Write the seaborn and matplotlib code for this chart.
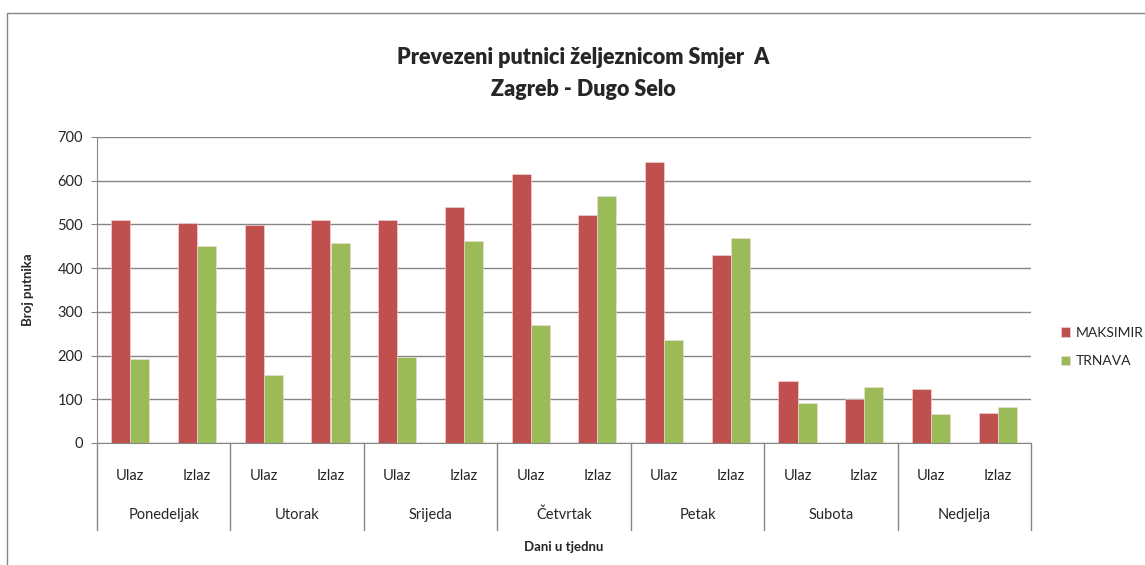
import pandas as pd
import matplotlib.pyplot as plt
import seaborn as sns
from matplotlib.lines import Line2D
from matplotlib.patches import Rectangle

# podaci
dani = ['Ponedeljak', 'Utorak', 'Srijeda', 'Četvrtak', 'Petak', 'Subota', 'Nedjelja']
smjerovi = ['Ulaz', 'Izlaz']
maksimir = [511, 503, 498, 509, 511, 539, 616, 522, 642, 429, 142, 100, 124, 68]
trnava = [192, 451, 156, 457, 196, 462, 271, 566, 235, 470, 91, 129, 66, 83]

kategorije = [d + ' ' + s for d in dani for s in smjerovi]
df = pd.DataFrame({
    'kategorija': kategorije * 2,
    'stanica': ['MAKSIMIR'] * len(kategorije) + ['TRNAVA'] * len(kategorije),
    'putnici': maksimir + trnava,
})

sns.set_style('white')
plt.rcParams['font.family'] = ['Lato', 'DejaVu Sans']

fig = plt.figure(figsize=(11.45, 5.65), dpi=100)
ax = fig.add_axes([97 / 1145, 1 - 443 / 565, (1031 - 97) / 1145, (443 - 137) / 565])

sns.barplot(data=df, x='kategorija', y='putnici', hue='stanica', order=kategorije,
            palette=['#C0504D', '#9BBB59'], saturation=1, width=0.57, edgecolor='#f2dcdb',
            linewidth=0.4, ax=ax, zorder=3)

ax.set_ylim(0, 700)
ax.set_xlim(-0.5, len(kategorije) - 0.5)
ax.set_yticks(range(0, 701, 100))
ax.yaxis.grid(True, color='#868686', linewidth=1)
ax.set_axisbelow(True)
for s in ['top', 'right']:
    ax.spines[s].set_visible(False)
for s in ['left', 'bottom']:
    ax.spines[s].set_color('#868686')
ax.tick_params(axis='y', labelsize=10.5, length=4, color='#868686', left=True, pad=6)
ax.set_xticks(range(len(kategorije)))
ax.set_xticklabels([s for d in dani for s in smjerovi], fontsize=10.5)
ax.tick_params(axis='x', length=0, pad=19)
ax.set_xlabel('')
ax.set_ylabel('Broj putnika', fontsize=9.5, fontweight='bold', labelpad=17)

# nazivi dana i razdjelnici
trans = ax.get_xaxis_transform()
for i, d in enumerate(dani):
    ax.text(2 * i + 0.5, -72 / 306, d, transform=trans, ha='center', va='center', fontsize=10.5)
for i in range(len(dani) + 1):
    ax.add_line(Line2D([2 * i - 0.5, 2 * i - 0.5], [0, -87 / 306], transform=trans,
                       color='#868686', linewidth=1, clip_on=False))

fig.text(564 / 1145, 1 - 547 / 565, 'Dani u tjednu', ha='center', va='center',
         fontsize=9.5, fontweight='bold')
fig.text(583 / 1145, 1 - 58 / 565, 'Prevezeni putnici željeznicom Smjer  A',
         ha='center', va='center', fontsize=15.5, fontweight='heavy')
fig.text(583 / 1145, 1 - 89 / 565, 'Zagreb - Dugo Selo',
         ha='center', va='center', fontsize=15.5, fontweight='heavy')

leg = ax.legend(loc='center left', bbox_to_anchor=(1048 / 1145, 1 - 347 / 565),
                bbox_transform=fig.transFigure, frameon=False, fontsize=10,
                handlelength=0.7, handleheight=0.7, handletextpad=0.4, labelspacing=1.2)

fig.add_artist(Rectangle((7 / 1145, -0.1), 1.2, 1 - 13 / 565 + 0.1, transform=fig.transFigure,
                         fill=False, edgecolor='#868686', linewidth=1))

fig.savefig('out.png', dpi=100)
